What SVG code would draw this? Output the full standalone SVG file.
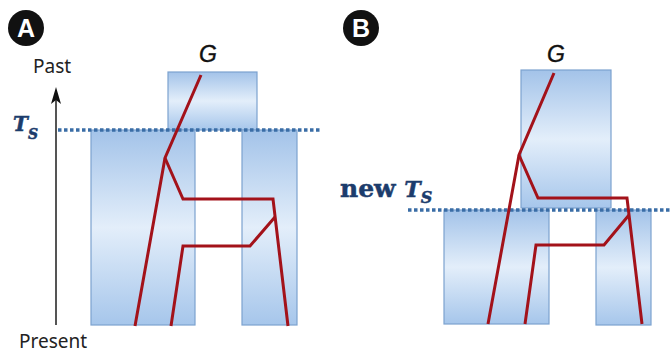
<svg xmlns="http://www.w3.org/2000/svg" width="672" height="354" viewBox="0 0 672 354">
<defs>
<linearGradient id="bg" x1="0" y1="0" x2="0" y2="1">
<stop offset="0" stop-color="#a3c3e9"/>
<stop offset="0.5" stop-color="#e3eefa"/>
<stop offset="1" stop-color="#a6c6eb"/>
</linearGradient>
</defs>
<style>
.box{fill:url(#bg);stroke:#7ca2cf;stroke-width:1.2}
.dot{stroke:#3a6da6;stroke-width:3.5;stroke-dasharray:3.5 2.5;fill:none}
.red{stroke:#a3121a;stroke-width:3;fill:none;stroke-linejoin:miter}
.lab{font-family:"Noto Sans","Liberation Sans",sans-serif;font-size:19px;fill:#222}
.g{font-family:"Liberation Sans",Arial,sans-serif;font-style:italic;font-size:23px;fill:#111;stroke:#111;stroke-width:0.4}
.ts{font-family:"DejaVu Serif","Liberation Serif",serif;font-weight:bold;fill:#1c3c6c;stroke:#1c3c6c;stroke-width:0.5}
.badge{fill:#111}
.bt{font-family:"Liberation Sans",Arial,sans-serif;font-weight:bold;font-size:25px;fill:#fff;text-anchor:middle}
</style>
<rect width="672" height="354" fill="#fff"/>

<!-- Panel A -->
<g id="badgeA"><circle class="badge" cx="26" cy="28" r="18"/><text class="bt" x="26" y="37">A</text></g>
<g id="axis">
<line x1="56" y1="98" x2="56" y2="325" stroke="#555" stroke-width="2"/>
<path d="M56,87 L61,104 L56,100 L51,104 Z" fill="#111"/>
<text class="lab" x="33" y="73">Past</text>
<text class="lab" x="19" y="348">Present</text>
</g>
<g id="boxA_top"><rect class="box" x="168" y="72" width="89" height="58"/></g>
<g id="boxA_left"><rect class="box" x="91" y="130" width="104" height="195"/></g>
<g id="boxA_right"><rect class="box" x="242" y="130" width="55" height="195"/></g>
<g id="TsA">
<line class="dot" x1="58" y1="130" x2="320" y2="130"/>
<text class="ts" x="13" y="131" font-size="20" font-style="italic">T<tspan font-size="14" dy="8">S</tspan></text>
</g>
<text class="g" x="199" y="62">G</text>

<!-- Panel B -->
<g id="badgeB"><circle class="badge" cx="361" cy="28" r="18"/><text class="bt" x="361" y="37">B</text></g>
<g id="boxB_top"><rect class="box" x="521" y="70" width="90" height="138"/></g>
<g id="boxB_left"><rect class="box" x="444" y="210" width="105" height="114"/></g>
<g id="boxB_right"><rect class="box" x="596" y="210" width="55" height="115"/></g>
<g id="TsB">
<line class="dot" x1="408" y1="210" x2="672" y2="210"/>
<text class="ts" x="340" y="197" font-size="25">new <tspan font-style="italic" font-size="22">T</tspan><tspan font-style="italic" font-size="16" dy="6">S</tspan></text>
</g>
<text class="g" x="547" y="62">G</text>

<g id="connectors">
<!-- A -->
<polyline class="red" points="201,75 165,158 135,326"/>
<polyline class="red" points="165,158 183,199 273,199 288,326"/>
<polyline class="red" points="275,217 250,246 183,246 171,326"/>
<!-- B -->
<polyline class="red" points="554,73 519,155 488,324"/>
<polyline class="red" points="519,155 538,198 627,198 642,324"/>
<polyline class="red" points="629,215 604,245 536,245 525,324"/>
</g>
</svg>
